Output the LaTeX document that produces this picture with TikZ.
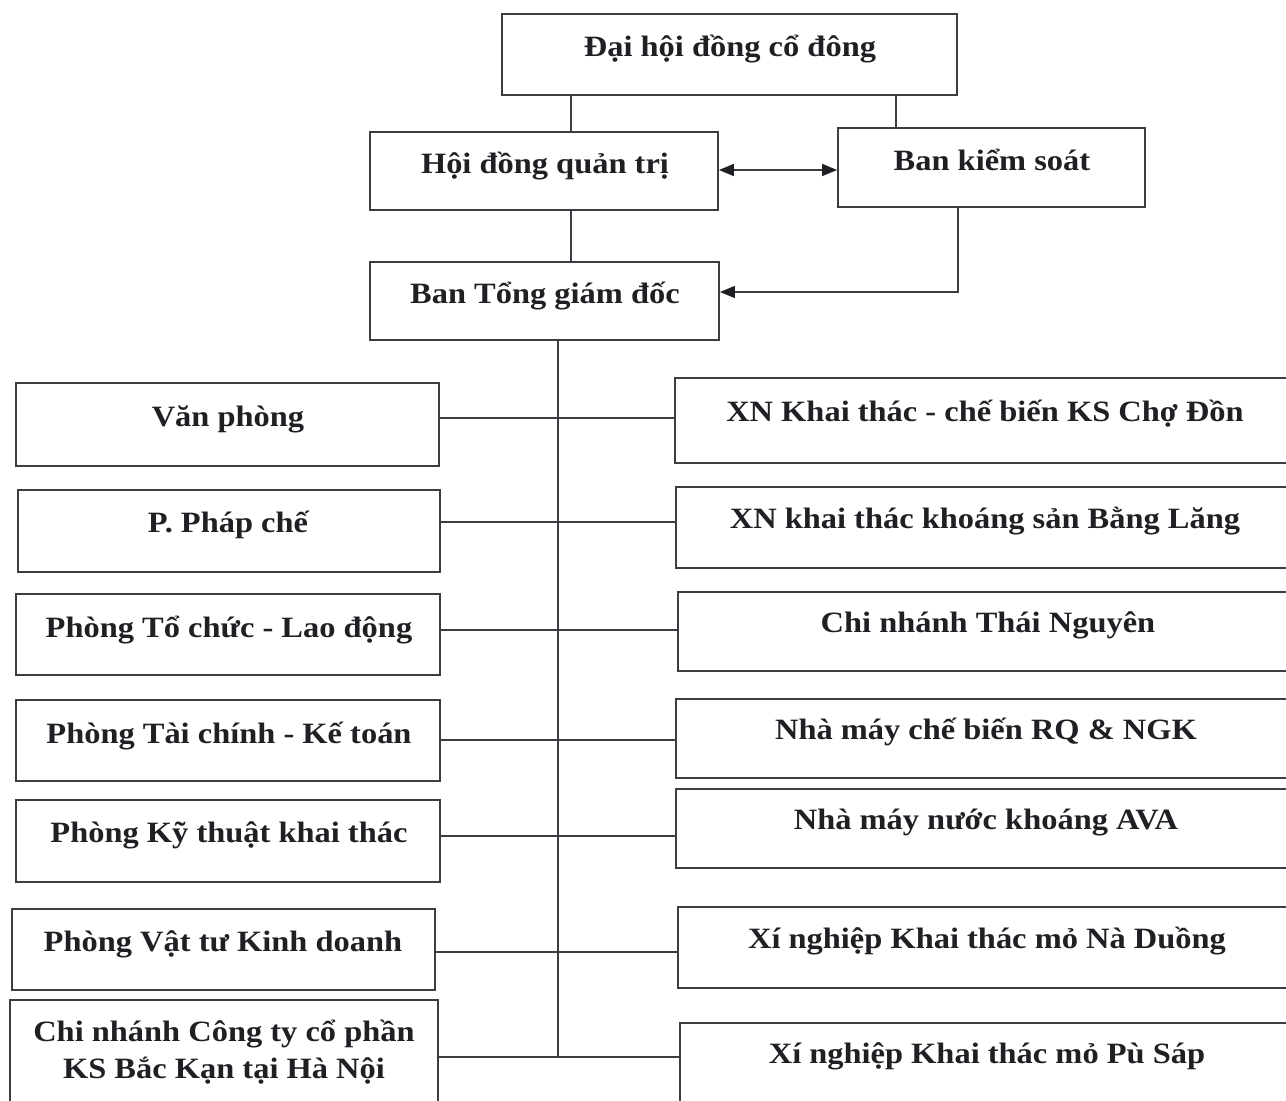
\documentclass[tikz,border=0pt]{standalone}
\usepackage{fontspec}
\newfontfamily\vnfont{Liberation Serif}[FakeStretch=1.1]
\usetikzlibrary{arrows.meta}
\definecolor{ink}{HTML}{1E2024}
\definecolor{edge}{HTML}{3A3D42}
\tikzset{
  box/.style={draw=edge, line width=1.8pt, rectangle, inner sep=0pt},
  lbl/.style={text=ink, font=\vnfont\bfseries\fontsize{29.5}{37}\selectfont, inner sep=0pt, align=center, text height=20pt, text depth=7pt},
  conn/.style={draw=edge, line width=1.4pt},
  tip/.style={-{Triangle[length=15pt,width=12pt,color=ink]}},
  tips/.style={{Triangle[length=15pt,width=12pt,color=ink]}-{Triangle[length=15pt,width=12pt,color=ink]}},
}
\begin{document}
\begin{tikzpicture}[x=1pt,y=-1pt]
\clip (0,0) rectangle (1286,1101);
\fill[white] (0,0) rectangle (1286,1101);
% top boxes
\node[box, minimum width=455pt, minimum height=81pt] (dh) at (729.5,54.5) {};
\node[box, minimum width=348pt, minimum height=78pt] (hd) at (544,171) {};
\node[box, minimum width=307pt, minimum height=79pt] (bk) at (991.5,167.5) {};
\node[box, minimum width=349pt, minimum height=78pt] (bt) at (544.5,301) {};
\node[lbl] (tdh) at (730,50) {Đại hội đồng cổ đông};
\node[lbl] (thd) at (545,167) {Hội đồng quản trị};
\node[lbl] (tbk) at (992,164) {Ban kiểm soát};
\node[lbl] (tbt) at (545,297) {Ban Tổng giám đốc};
% left boxes
\node[box, minimum width=423pt, minimum height=83pt] (L1) at (227.5,424.5) {};
\node[box, minimum width=422pt, minimum height=82pt] (L2) at (229,531) {};
\node[box, minimum width=424pt, minimum height=81pt] (L3) at (228,634.5) {};
\node[box, minimum width=424pt, minimum height=81pt] (L4) at (228,740.5) {};
\node[box, minimum width=424pt, minimum height=82pt] (L5) at (228,841) {};
\node[box, minimum width=423pt, minimum height=81pt] (L6) at (223.5,949.5) {};
\node[box, minimum width=428pt, minimum height=120pt] (L7) at (224,1060) {};
\node[lbl] (tL1) at (228,420) {Văn phòng};
\node[lbl] (tL2) at (228,526) {P. Pháp chế};
\node[lbl] (tL3) at (229,631) {Phòng Tổ chức - Lao động};
\node[lbl] (tL4) at (229,737) {Phòng Tài chính - Kế toán};
\node[lbl] (tL5) at (229,836) {Phòng Kỹ thuật khai thác};
\node[lbl] (tL6) at (223,945) {Phòng Vật tư Kinh doanh};
\node[lbl, text height=, text depth=] (tL7) at (224,1052) {Chi nhánh Công ty cổ phần\\KS Bắc Kạn tại Hà Nội};
% right boxes
\node[box, minimum width=625pt, minimum height=85pt] (R1) at (987.5,420.5) {};
\node[box, minimum width=624pt, minimum height=81pt] (R2) at (988,527.5) {};
\node[box, minimum width=622pt, minimum height=79pt] (R3) at (989,631.5) {};
\node[box, minimum width=624pt, minimum height=79pt] (R4) at (988,738.5) {};
\node[box, minimum width=624pt, minimum height=79pt] (R5) at (988,828.5) {};
\node[box, minimum width=622pt, minimum height=81pt] (R6) at (989,947.5) {};
\node[box, minimum width=620pt, minimum height=97pt] (R7) at (990,1071.5) {};
\node[lbl] (tR1) at (985,415) {XN Khai thác - chế biến KS Chợ Đồn};
\node[lbl] (tR2) at (985,522) {XN khai thác khoáng sản Bằng Lăng};
\node[lbl] (tR3) at (988,626) {Chi nhánh Thái Nguyên};
\node[lbl] (tR4) at (986,733) {Nhà máy chế biến RQ \& NGK};
\node[lbl] (tR5) at (986,823) {Nhà máy nước khoáng AVA};
\node[lbl] (tR6) at (987,942) {Xí nghiệp Khai thác mỏ Nà Duồng};
\node[lbl] (tR7) at (987,1057) {Xí nghiệp Khai thác mỏ Pù Sáp};
% top connectors
\coordinate (a1) at (571,0);
\coordinate (a2) at (896,0);
\coordinate (a3) at (0,170);
\coordinate (a4) at (958,292);
\draw[conn] (dh.south -| a1) -- (hd.north -| a1);
\draw[conn] (dh.south -| a2) -- (bk.north -| a2);
\draw[conn] (hd.south -| a1) -- (bt.north -| a1);
\draw[conn, tips] (hd.east |- a3) -- (bk.west |- a3);
\draw[conn, tip] (bk.south -| a4) -- (a4) -- (bt.east |- a4);
% trunk
\coordinate (tr0) at (558,0);
\coordinate (t1) at (558,418);
\coordinate (t2) at (558,522);
\coordinate (t3) at (558,630);
\coordinate (t4) at (558,740);
\coordinate (t5) at (558,836);
\coordinate (t6) at (558,952);
\coordinate (t7) at (558,1057);
\draw[conn] (bt.south -| tr0) -- (t7);
\foreach \i in {1,...,7}{
  \draw[conn] (L\i.east |- t\i) -- (t\i) -- (R\i.west |- t\i);
}
\end{tikzpicture}
\end{document}
